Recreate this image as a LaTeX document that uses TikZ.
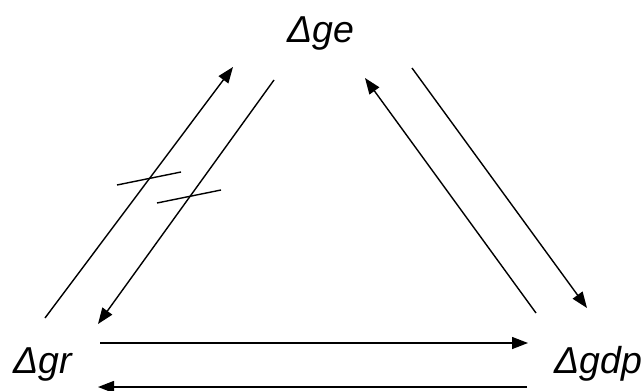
\documentclass[tikz,border=0pt]{standalone}
\usepackage{fontspec}
\setmainfont{Liberation Sans}
\usetikzlibrary{arrows.meta,calc}

\begin{document}
\begin{tikzpicture}[
    x=0.03cm, y=-0.03cm,
    var/.style={font=\fontsize{32}{38}\selectfont\itshape, inner sep=0pt, anchor=base west},
    link/.style={line width=1.2pt, -{Triangle[length=0.48cm, width=0.36cm]}},
    cut/.style={line width=1.2pt},
]
\useasboundingbox (0,0) rectangle (641,390);

% Variables
\node[var] (ge) at (287,42) {Δge};
\node[var] (gr) at (13,373) {Δgr};
\node[var] (gdp) at (554,373) {Δgdp};

% Connector ends
\coordinate (gr-a) at (45,318);   \coordinate (ge-a) at (233,67);
\coordinate (ge-b) at (274,80);   \coordinate (gr-b) at (98,324);
\coordinate (gdp-c) at (536,313); \coordinate (ge-c) at (365,78);
\coordinate (ge-d) at (412,68);   \coordinate (gdp-d) at (587,308);
\coordinate (gr-e) at (100,343);  \coordinate (gdp-e) at (528,343);
\coordinate (gdp-f) at (527,387); \coordinate (gr-f) at (98,387);

% Links between the variables
\draw[link] (gr-a) -- (ge-a);
\draw[link] (ge-b) -- (gr-b);
\draw[link] (gdp-c) -- (ge-c);
\draw[link] (ge-d) -- (gdp-d);
\draw[link] (gr-e) -- (gdp-e);
\draw[link] (gdp-f) -- (gr-f);

% Broken links
\draw[cut] (117,185) -- (181,172);
\draw[cut] (157,203) -- (221,190);

\end{tikzpicture}
\end{document}
